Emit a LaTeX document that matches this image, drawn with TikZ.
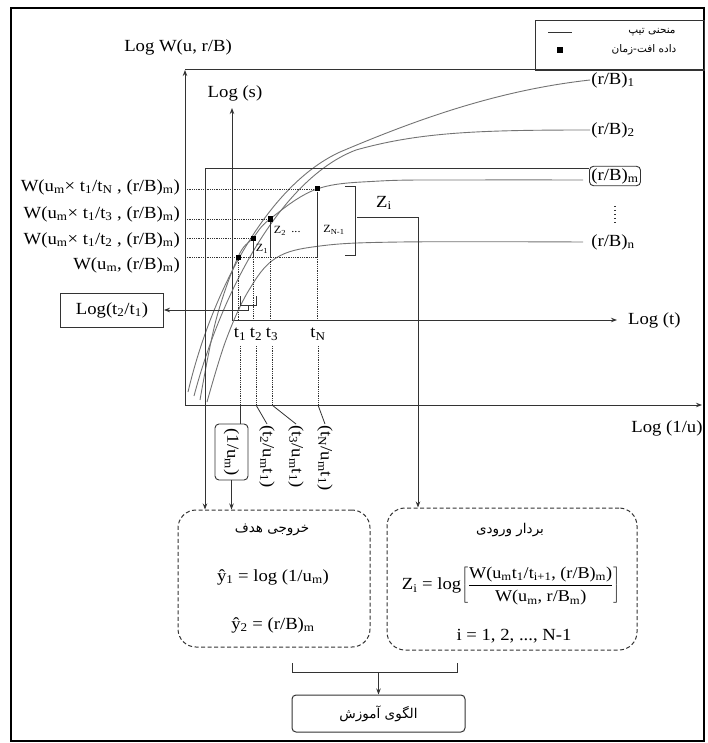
\documentclass[tikz,border=0pt]{standalone}
\usepackage{fontspec}
\setmainfont{Liberation Serif}[FakeStretch=1.1]
\newfontfamily\fa[Script=Arabic]{DejaVu Sans}
\TeXXeTstate=1
\usetikzlibrary{arrows.meta,calc}
\newcommand{\sbs}[1]{\textsubscript{#1}}
\begin{document}
\begin{tikzpicture}[x=1pt,y=-1pt,
  ax/.style={draw=black!80,line width=1pt},
  conn/.style={draw=black!80,line width=0.8pt},
  arr/.style={-{Stealth[length=6pt,width=4.5pt]}},
  dotl/.style={draw=black!80,densely dotted,line width=0.8pt},
  tc/.style={draw=black!55,line width=0.9pt},
  lbl/.style={font=\fontsize{17}{19}\selectfont,inner sep=1pt},
  slbl/.style={font=\fontsize{11}{13}\selectfont,inner sep=1pt},
  falbl/.style={font=\fa\fontsize{10.5}{12}\selectfont,inner sep=1pt},
  fatitle/.style={font=\fa\fontsize{13.5}{15}\selectfont,inner sep=1pt},
  dbox/.style={draw=black!80,dash pattern=on 4pt off 2.5pt,rounded corners=18pt,line width=1pt},
  rbox/.style={draw=black!80,rounded corners=4pt,line width=0.9pt},
  sqbox/.style={draw=black!80,line width=0.9pt},
  dpt/.style={fill=black,minimum size=5pt,inner sep=0pt},
]
\useasboundingbox (0,0) rectangle (707,743);
% outer frame
\draw[line width=1.1pt] (11,8) rectangle (704,741);
% legend
\node[sqbox,minimum width=169pt,minimum height=50pt,anchor=north west] (leg) at (535,20) {};
\draw[conn] (548,32) -- (572,32);
\node[dpt,minimum size=6pt] (lsq) at (560,50) {};
\node[falbl] (leg1) at (652,32) {\beginR منحنی تیپ\endR};
\node[falbl] (leg2) at (644,50) {\beginR داده افت-زمان\endR};
% main axes
\coordinate (O) at (185,405);
\coordinate (Wtop) at (185,70);
\coordinate (Rtop) at (704,70);
\coordinate (Uend) at (702,405);
\draw[ax,arr] (O) -- (Wtop);
\draw[ax] (Wtop) -- (Rtop);
\draw[ax,arr] (O) -- (Uend);
\node[lbl] (logW) at (178,47) {Log W(u, r/B)};
\node[lbl] (logu) at (667,428) {Log (1/u)};
% data axes
\coordinate (S0) at (232,320);
\coordinate (Stop) at (232,108);
\coordinate (Tend) at (617,320);
\draw[ax,arr] (S0) -- (Stop);
\draw[ax,arr] (S0) -- (Tend);
\node[lbl] (logs) at (235,93) {Log (s)};
\node[lbl,anchor=west] (logt) at (627,320) {Log (t)};
% curve labels
\node[lbl] (r1) at (613,80) {(r/B)\sbs{1}};
\node[lbl] (r2) at (613,130) {(r/B)\sbs{2}};
\node[lbl,rbox,inner sep=2pt] (rBm) at (615,176) {(r/B)\sbs{m}};
\draw[draw=black!80,line width=1.4pt,dash pattern=on 1.4pt off 2.6pt] (615,206) -- (615,224);
\node[lbl] (rn) at (613,242) {(r/B)\sbs{n}};
% type curves
\draw[tc] (188,392) .. controls (212,290) and (268,185) .. (340,152) .. controls (420,118) and (500,90) .. (r1.west);
\draw[tc] (194,396) .. controls (222,290) and (282,178) .. (356,150) .. controls (420,132) and (480,130) .. (r2.west);
\draw[tc] plot[smooth,tension=0.6] coordinates {(200,400) (216,320) (238,257) (253,238) (270,219) (317,189) (380,181) (470,180) (583,180)};
\draw[tc] plot[smooth,tension=0.6] coordinates {(207,402) (226,340) (249,290) (276,258) (320,246) (400,242) (583,242)};
% data points
\node[dpt] (p1) at (238,257) {};
\node[dpt] (p2) at (253,238) {};
\node[dpt] (p3) at (270,219) {};
\node[dpt] (pN) at (317,189) {};
% left W labels
\node[lbl,anchor=east] (wN) at (181,187) {W(u\sbs{m}× t\sbs{1}/t\sbs{N} , (r/B)\sbs{m})};
\node[lbl,anchor=east] (w3) at (181,214) {W(u\sbs{m}× t\sbs{1}/t\sbs{3} , (r/B)\sbs{m})};
\node[lbl,anchor=east] (w2) at (181,240) {W(u\sbs{m}× t\sbs{1}/t\sbs{2} , (r/B)\sbs{m})};
\node[lbl,anchor=east] (w1) at (181,265) {W(u\sbs{m}, (r/B)\sbs{m})};
\draw[dotl] (185,189) -- (pN);
\draw[dotl] (185,219) -- (p3);
\draw[dotl] (185,238) -- (p2);
\draw[dotl] (185,257) -- (p1) -- (317,257);
% t labels
\node[lbl] (t1) at (240,334) {t\sbs{1}};
\node[lbl] (t2) at (256,334) {t\sbs{2}};
\node[lbl] (t3) at (272,334) {t\sbs{3}};
\node[lbl] (tN) at (318,334) {t\sbs{N}};
% Z segments
\draw[conn] (p2) -- (253,257);
\draw[conn] (p3) -- (270,257);
\draw[conn] (pN) -- (317,257);
\draw[dotl] (p1) -- (p1 |- S0);
\draw[dotl] (253,257) -- (253,320);
\draw[dotl] (270,257) -- (270,320);
\draw[dotl] (317,257) -- (317,320);
\node[slbl] (z1) at (262,249) {Z\sbs{1}};
\node[slbl] (z2) at (280,231) {Z\sbs{2}};
\node[slbl] (zd) at (296,232) {...};
\node[slbl] (zN) at (334,230) {Z\sbs{N-1}};
% Z bracket
\draw[conn] (345,186) -- (355,186) -- (355,255) -- (345,255);
\node[lbl] (zi) at (384,203) {Z\sbs{i}};
\coordinate (zc) at (418,217);
% dotted drops
\draw[dotl] (240,346) -- (240,405);
\draw[dotl] (256,346) -- (256,405);
\draw[dotl] (272,346) -- (272,405);
\draw[dotl] (318,346) -- (318,405);
% Log(t2/t1)
\node[lbl,sqbox,minimum width=103pt,minimum height=34pt] (ltt) at (112,310) {Log(t\sbs{2}/t\sbs{1})};
\draw[conn] (240,296) -- (240,305) -- (256,305) -- (256,296);
\draw[conn,arr] (248,305) |- (ltt.east);
% rotated labels
\node[lbl,rbox,rotate=-90,minimum width=56pt,minimum height=33pt,inner sep=2pt] (um) at (231.5,452) {(1/u\sbs{m})};
\node[lbl,rotate=-90,anchor=west] (l2) at (267,424) {(t\sbs{2}/u\sbs{m}t\sbs{1})};
\node[lbl,rotate=-90,anchor=west] (l3) at (296,424) {(t\sbs{3}/u\sbs{m}t\sbs{1})};
\node[lbl,rotate=-90,anchor=west] (lN) at (325,424) {(t\sbs{N}/u\sbs{m}t\sbs{1})};
\draw[conn] (240,405) -- (um.west -| t1);
\draw[conn] (256,405) -- (l2.west);
\draw[conn] (272,405) -- (l3.west);
\draw[conn] (318,405) -- (lN.west);
% lower boxes
\node[dbox,minimum width=192pt,minimum height=137pt] (tgt) at (274,578.5) {};
\node[fatitle] (tgtT) at (272,530) {\beginR خروجی هدف\endR};
\node[lbl] (y1) at (273,577) {ŷ\sbs{1} = log (1/u\sbs{m})};
\node[lbl] (y2) at (273,625) {ŷ\sbs{2} = (r/B)\sbs{m}};
\node[dbox,minimum width=250pt,minimum height=142pt] (inp) at (512,579) {};
\node[fatitle] (inpT) at (510,530) {\beginR بردار ورودی\endR};
\node[lbl] (zf) at (511,586) {Z\sbs{i} = log$\left[\displaystyle\frac{\mbox{\fontsize{16.5}{18}\selectfont W(u\sbs{m}t\sbs{1}/t\sbs{i+1}, (r/B)\sbs{m})}}{\mbox{\fontsize{16.5}{18}\selectfont W(u\sbs{m}, r/B\sbs{m})}}\right]$};
\node[lbl] (ir) at (514,636) {i = 1, 2, ..., N-1};
\node[rbox,line width=1pt,minimum width=173pt,minimum height=37pt,fatitle] (trn) at (378.5,713.5) {\beginR الگوی آموزش\endR};
% connectors to lower boxes
\coordinate (c1) at (205,169);
\draw[ax,arr] (rBm.west |- c1) -- (c1) -- (c1 |- tgt.north);
\draw[conn,arr] (um.east) -- (um.east |- tgt.north);
\draw[conn,arr] (357,217) -- (zc) -- (zc |- inp.north);
\draw[conn] (292,663) -- (292,672) -- (457,672) -- (457,663);
\draw[conn,arr] (378.5,672) -- (trn.north);
\end{tikzpicture}
\end{document}
